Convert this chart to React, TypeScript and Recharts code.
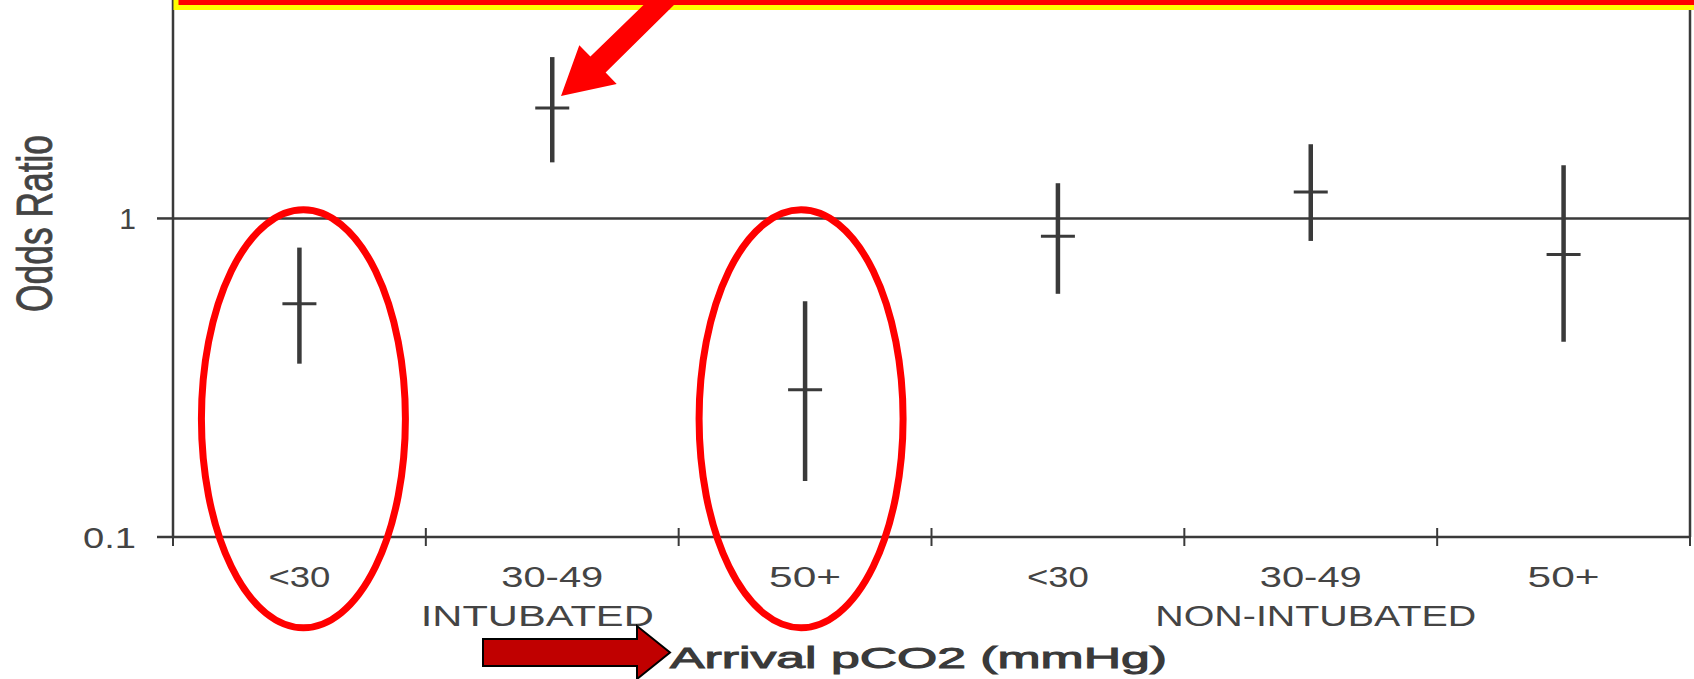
import React from 'react';
import {
  ComposedChart,
  Scatter,
  ErrorBar,
  XAxis,
  YAxis,
  ReferenceLine,
  ReferenceDot,
} from 'recharts';

// odds ratio with 95% CI per arrival pCO2 band
const categories = ['<30', '30-49', '50+', '<30', '30-49', '50+'];
const groups = ['', 'INTUBATED', '', '', 'NON-INTUBATED', ''];
const oddsRatio = [0.54, 2.22, 0.29, 0.88, 1.21, 0.77];
const ciLow = [0.35, 1.5, 0.15, 0.58, 0.85, 0.41];
const ciHigh = [0.81, 3.21, 0.55, 1.29, 1.71, 1.47];
const yTicks = [0.1, 1];
const bandTicks = [0, 1, 2, 3, 4, 5, 6];
const labelTicks = [0.5, 1.5, 2.5, 3.5, 4.5, 5.5];
// the two circled bands, ellipse centred at this odds ratio
const circled = [0.5, 2.5];
const circleCentre = 0.235;

const rows = categories.map((c, i) => ({
  x: i + 0.5,
  name: c,
  or: oddsRatio[i],
  ci: [oddsRatio[i] - ciLow[i], ciHigh[i] - oddsRatio[i]],
}));

const INK = '#3a3a3a';
const TEXT = '#444';
const FONT = '"Liberation Sans", Arial, sans-serif';

// the scanned text is stretched sideways, so fix its drawn width
const textWidth: Record<string, number> = {
  '<30': 62,
  '30-49': 102,
  '50+': 72,
  INTUBATED: 233,
  'NON-INTUBATED': 321,
  '0.1': 53,
};
// group captions sit a little off the band centre in the scan
const groupShift: Record<string, number> = { INTUBATED: -15, 'NON-INTUBATED': 5 };
const ringShift: Record<number, number> = { 0.5: 4, 2.5: -4 };

function YTick(props: any) {
  const label = String(props.payload.value);
  return (
    <text
      x={props.x}
      y={props.y}
      dy={11}
      textAnchor="end"
      fontSize={30}
      fontFamily={FONT}
      fill={TEXT}
      textLength={textWidth[label]}
      lengthAdjust="spacingAndGlyphs"
    >
      {label}
    </text>
  );
}

function BoundaryTick(props: any) {
  return <line x1={props.x} x2={props.x} y1={props.y - 9} y2={props.y + 9} stroke={INK} strokeWidth={2} />;
}

function CategoryTick(props: any) {
  const i = Math.floor(props.payload.value);
  const cat = categories[i];
  const grp = groups[i];
  return (
    <g fontFamily={FONT} fontSize={29} fill={TEXT}>
      <text x={props.x} y={props.y} dy={38} textAnchor="middle" textLength={textWidth[cat]} lengthAdjust="spacingAndGlyphs">
        {cat}
      </text>
      {grp && (
        <text
          x={props.x + groupShift[grp]}
          y={props.y}
          dy={77}
          textAnchor="middle"
          textLength={textWidth[grp]}
          lengthAdjust="spacingAndGlyphs"
        >
          {grp}
        </text>
      )}
    </g>
  );
}

function XTitle(props: any) {
  const vb = props.viewBox || { x: 173, y: 549, width: 1517, height: 130 };
  return (
    <text
      x={vb.x + vb.width / 2 - 13}
      y={vb.y + vb.height - 11}
      textAnchor="middle"
      fontSize={30}
      fontFamily={FONT}
      fill="#3a3a3a"
      stroke="#3a3a3a"
      strokeWidth={1}
      textLength={497}
      lengthAdjust="spacingAndGlyphs"
    >
      Arrival pCO2 (mmHg)
    </text>
  );
}

function YTitle(props: any) {
  const vb = props.viewBox || { x: 0, y: 0, width: 173, height: 537 };
  const tx = vb.x + 52;
  const ty = vb.y + vb.height / 2 - 45;
  return (
    <text
      transform={`translate(${tx},${ty}) rotate(-90) scale(1,1.45)`}
      textAnchor="middle"
      fontSize={35}
      fontFamily={FONT}
      fill={TEXT}
      stroke={TEXT}
      strokeWidth={0.6}
      textLength={177}
      lengthAdjust="spacingAndGlyphs"
    >
      Odds Ratio
    </text>
  );
}

function Marker(props: any) {
  return <line x1={props.cx - 17} x2={props.cx + 17} y1={props.cy} y2={props.cy} stroke={INK} strokeWidth={3} />;
}

function makeRing(x: number) {
  return (props: any) => (
    <ellipse
      cx={props.cx + ringShift[x]}
      cy={props.cy}
      rx={102}
      ry={209}
      fill="none"
      stroke="#ff0000"
      strokeWidth={7}
    />
  );
}

export default function App() {
  return (
    <div style={{ position: 'absolute', left: 0, top: 0, width: 1694, height: 679, background: '#fff' }}>
      <ComposedChart width={1694} height={679} data={rows} margin={{ top: 0, right: 4, bottom: 0, left: 0 }}>
        <XAxis
          xAxisId="b"
          dataKey="x"
          type="number"
          domain={[0, 6]}
          allowDataOverflow
          ticks={bandTicks}
          interval={0}
          height={12}
          tickSize={0}
          tickMargin={0}
          tickLine={false}
          axisLine={{ stroke: INK, strokeWidth: 2.5 }}
          tick={BoundaryTick}
        />
        <XAxis
          xAxisId="c"
          dataKey="x"
          type="number"
          domain={[0, 6]}
          allowDataOverflow
          ticks={labelTicks}
          interval={0}
          height={130}
          tickSize={0}
          tickMargin={0}
          tickLine={false}
          axisLine={false}
          tick={CategoryTick}
          label={{ value: 'Arrival pCO2 (mmHg)', content: XTitle }}
        />
        <YAxis
          scale="log"
          domain={[0.1, 4.85]}
          allowDataOverflow
          ticks={yTicks}
          interval={0}
          width={173}
          tickSize={16}
          tickMargin={21}
          tickLine={{ stroke: INK, strokeWidth: 2.5 }}
          axisLine={{ stroke: INK, strokeWidth: 2.5 }}
          tick={YTick}
          label={{ value: 'Odds Ratio', content: YTitle }}
        />
        <ReferenceLine xAxisId="b" y={1} stroke={INK} strokeWidth={2.5} />
        <ReferenceLine xAxisId="b" x={6} stroke={INK} strokeWidth={2.5} />
        <Scatter xAxisId="b" dataKey="or" shape={Marker} isAnimationActive={false}>
          <ErrorBar dataKey="ci" direction="y" width={0} stroke={INK} strokeWidth={4.5} isAnimationActive={false} />
        </Scatter>
        {circled.map((x) => (
          <ReferenceDot key={x} xAxisId="b" x={x} y={circleCentre} shape={makeRing(x)} />
        ))}
      </ComposedChart>
      <svg width={1694} height={679} style={{ position: 'absolute', left: 0, top: 0, pointerEvents: 'none' }}>
        <rect x={176} y={-30} width={1600} height={37.5} fill="#ff0000" stroke="#ffff00" strokeWidth={5} />
        <polygon
          points="677,2 605.6,72.4 616.7,84.1 561,96 579.3,45.2 590.4,56.6 661,-12"
          fill="#ff0000"
        />
        <polygon
          points="483,639 637,639 637,626 670,652.5 637,679 637,666 483,666"
          fill="#c00000"
          stroke="#000"
          strokeWidth={2}
        />
      </svg>
    </div>
  );
}
